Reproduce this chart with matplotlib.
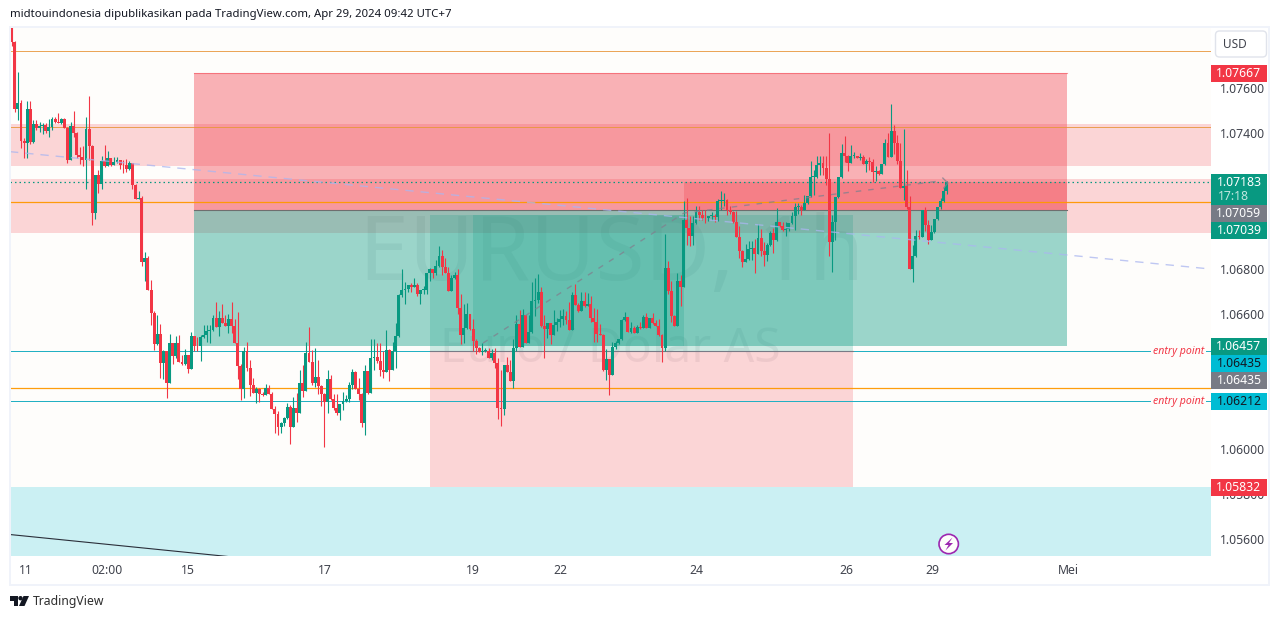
import matplotlib
matplotlib.use("Agg")
import matplotlib.pyplot as plt
from matplotlib.patches import Rectangle, Circle, Polygon, FancyBboxPatch
import numpy as np

first_open = 107869
closes = [107805,107508,107533,107366,107357,107507,107362,107440,107422,107431,107436,107409,107427,107462,107449,107445,107462,107422,107282,107431,
107400,107303,107294,107281,107418,107343,107046,107214,107174,107276,107254,107290,107259,107272,107281,107259,107257,107241,107267,107170,
107108,107112,106829,106846,106705,106603,106465,106510,106381,106434,106293,106470,106412,106470,106386,106377,106417,106355,106501,106457,
106455,106496,106505,106523,106527,106581,106541,106581,106558,106545,106576,106545,106470,106368,106266,106434,106359,106284,106248,106266,
106244,106239,106270,106244,106177,106155,106098,106115,106137,106186,106098,106182,106160,106293,106257,106425,106386,106293,106319,106279,
106244,106208,106310,106222,106182,106160,106199,106213,106222,106284,106341,106267,106244,106115,106346,106248,106403,106408,106390,106350,
106341,106439,106350,106434,106501,106682,106705,106709,106727,106718,106727,106687,106705,106705,106780,106798,106780,106811,106855,106807,
106780,106700,106758,106771,106625,106505,106536,106598,106532,106479,106448,106430,106434,106434,106403,106425,106381,106182,106177,106372,
106341,106301,106448,106554,106452,106594,106470,106519,106656,106660,106696,106545,106532,106558,106505,106550,106563,106576,106589,106572,
106527,106682,106638,106612,106656,106634,106643,106581,106563,106510,106505,106350,106399,106328,106452,106470,106486,106572,106585,106519,
106536,106514,106541,106536,106585,106536,106581,106558,106545,106505,106448,106802,106700,106589,106545,106744,106718,107015,106982,106944,
107001,107050,107037,107024,107022,107033,107035,107027,107099,107100,107102,107059,107049,107006,106939,106877,106829,106842,106886,106891,
106864,106935,106877,106860,106904,106957,106926,107006,106988,106970,106975,107001,107033,107072,107074,107059,107090,107121,107205,107207,
107259,107267,107245,107196,106917,107006,107117,107205,107312,107298,107267,107298,107300,107290,107294,107263,107276,107272,107228,107232,
107219,107263,107356,107294,107409,107356,107276,107157,107165,107072,106798,106855,106944,106939,107059,106993,106926,106962,107019,107072,
107099,107143,107183]
highs = [107875,107809,107671,107547,107380,107542,107542,107458,107458,107449,107445,107445,107462,107471,107471,107489,107467,107467,107427,107449,
107498,107405,107338,107343,107471,107564,107347,107214,107236,107298,107347,107321,107290,107294,107294,107281,107281,107285,107276,107267,
107174,107143,107121,106873,106855,106749,106612,106594,106554,106439,106434,106510,106470,106501,106505,106417,106443,106417,106519,106501,
106498,106505,106550,106550,106550,106594,106651,106612,106643,106594,106598,106651,106576,106607,106377,106452,106474,106394,106315,106275,
106270,106253,106288,106284,106253,106191,106168,106120,106142,106204,106195,106230,106248,106350,106372,106474,106541,106439,106448,106394,
106284,106248,106350,106328,106244,106244,106199,106253,106239,106297,106355,106346,106315,106248,106372,106346,106488,106488,106470,106470,
106434,106527,106443,106474,106558,106687,106798,106740,106727,106736,106758,106736,106705,106721,106780,106802,106798,106838,106900,106882,
106846,106807,106771,106784,106798,106687,106643,106647,106598,106576,106488,106452,106470,106448,106448,106443,106448,106403,106350,106372,
106408,106394,106488,106594,106616,106620,106594,106594,106740,106758,106775,106718,106594,106558,106558,106616,106581,106616,106620,106612,
106651,106696,106731,106647,106696,106696,106691,106678,106625,106620,106554,106510,106443,106399,106474,106479,106488,106576,106607,106585,
106563,106545,106550,106563,106594,106603,106581,106603,106572,106576,106510,106953,106833,106744,106594,106780,106771,107099,107112,107033,
107033,107077,107077,107059,107059,107033,107050,107041,107108,107143,107134,107108,107077,107055,107055,106988,106882,106908,106922,106922,
106931,106997,106975,106917,106913,106966,106979,107068,107006,107006,107006,107001,107050,107090,107090,107081,107125,107121,107276,107236,
107298,107298,107298,107298,107400,107037,107117,107205,107352,107387,107303,107347,107316,107298,107312,107303,107285,107294,107285,107254,
107236,107263,107374,107400,107529,107436,107391,107356,107418,107236,107121,106904,106970,106970,107059,107072,107015,106993,107019,107072,
107112,107161,107187]
lows = [107786,107495,107458,107334,107290,107290,107352,107357,107414,107405,107396,107400,107383,107414,107445,107445,107440,107422,107267,107282,
107383,107290,107263,107254,107152,107281,106993,107019,107134,107152,107250,107254,107254,107259,107267,107241,107223,107228,107236,107152,
107108,107108,106811,106744,106705,106550,106439,106461,106315,106310,106226,106293,106377,106403,106386,106372,106372,106337,106355,106434,
106434,106390,106492,106474,106470,106523,106541,106501,106558,106545,106514,106514,106470,106310,106217,106226,106346,106235,106248,106204,
106208,106235,106239,106244,106177,106071,106062,106071,106102,106133,106022,106098,106120,106160,106230,106257,106386,106284,106275,106244,
106191,106009,106160,106217,106173,106151,106129,106173,106208,106208,106266,106267,106217,106098,106062,106244,106248,106350,106381,106324,
106315,106341,106301,106350,106359,106496,106674,106643,106696,106696,106722,106678,106643,106687,106687,106745,106758,106771,106807,106771,
106780,106700,106700,106753,106598,106465,106470,106532,106527,106434,106421,106430,106417,106430,106403,106394,106359,106133,106102,106151,
106341,106301,106270,106434,106452,106452,106470,106470,106514,106589,106647,106541,106403,106492,106465,106505,106523,106541,106550,106554,
106527,106527,106638,106607,106612,106629,106634,106563,106474,106474,106505,106346,106306,106239,106328,106443,106465,106483,106567,106519,
106514,106514,106514,106532,106536,106536,106536,106554,106545,106501,106386,106434,106687,106563,106545,106545,106634,106718,106904,106900,
106904,106997,107015,107015,107001,107010,107015,107006,107010,107059,107077,107037,107041,107001,106939,106846,106807,106829,106838,106838,
106780,106864,106855,106811,106833,106900,106869,106922,106984,106966,106944,106966,106997,106970,107041,107037,107059,107086,107117,107125,
107201,107214,107214,107170,106855,106784,106926,107112,107201,107272,107232,107267,107290,107290,107281,107263,107228,107236,107183,107188,
107214,107219,107259,107294,107294,107307,107263,107157,107103,107064,106798,106740,106851,106931,106939,106966,106908,106926,106957,107015,
107064,107095,107130]

yaxis_ticks = [1.056,1.058,1.060,1.062,1.064,1.066,1.068,1.070,1.072,1.074,1.076]
yaxis_shown = ["1.05600","1.05800","1.06000","","","1.06600","1.06800","","","1.07400","1.07600"]
time_labels = ["11","02:00","15","17","19","22","24","26","29","Mei"]
time_ticks = [4.6,30.8,56.9,101.2,149,177.1,221,269.4,297.2,341.1]

faint_orange = [1.07764,1.07427]
hlines_orange = [1.07093,1.06269]
hlines_teal = [1.06435,1.06212]
current_price = 1.07183
zones_pink = [(1.07254,1.07441),(1.06958,1.07197)]
zone_cyan = (1.05300,1.05832)
big_box = dict(x0=58.9,x1=340.7,top=1.07667,mid=1.07059,bot=1.06457)
long_box = dict(x0=135.1,x1=271.7,top=1.07039,mid=1.06435,bot=1.05832)
dark_green_box = dict(x0=148.9,x1=217.1,top=1.07039,bot=1.06457)
dark_red_box = dict(x0=217.1,x1=340.7,top=1.07183,bot=1.07059)
blue_trend_x, blue_trend_y = [-0.55,387.3],[1.07318,1.06798]
grey_path_x, grey_path_y = [152.2,217.1,299.7],[1.06470,1.07046,1.07188]
arrow_x, arrow_y = [300.7,302.3,301.0],[1.07201,1.07179,1.07157]
black_x, black_y = [-0.55,68.1,140],[1.05622,1.05527,1.05428]

plt.rcParams['font.family'] = ['Noto Sans','DejaVu Sans']
W,H = 1281,619
fig = plt.figure(figsize=(W/100,H/100),dpi=100,facecolor='white')
ax = fig.add_axes([10/W,1-556/H,(1211-10)/W,(556-27)/H],facecolor='#fefdfb')
ax.set_xlim(-0.55,387.3); ax.set_ylim(1.055269,1.078702)
for s in ax.spines.values(): s.set_visible(False)
ax.set_axisbelow(True)
ax.yaxis.tick_right()
ax.set_yticks(yaxis_ticks); ax.set_yticklabels(yaxis_shown,fontsize=8.8,color='#40434d')
ax.set_xticks(time_ticks); ax.set_xticklabels(time_labels,fontsize=8.8,color='#40434d')
ax.tick_params(axis='y',length=0,pad=6.5)
ax.tick_params(axis='x',length=0,pad=5.5)

RED,GRN,CY,OR = '#f23645','#089981','#00bcd4','#ff9800'
def box(x0,x1,b,t,c,a,z=1.0):
    ax.add_patch(Rectangle((x0,b),x1-x0,t-b,fc=c,alpha=a,lw=0,zorder=z))

ax.text(0.2905,0.565,"EURUSD, 1h",transform=ax.transAxes,fontsize=64.5,color='#787b86',alpha=.12,va='center',ha='left',zorder=.9)
ax.text(0.358,0.39,"Euro / Dolar AS",transform=ax.transAxes,fontsize=34.5,color='#787b86',alpha=.12,va='center',ha='left',zorder=.9)

for b,t in zones_pink: ax.axhspan(b,t,fc=RED,alpha=.2,lw=0,zorder=1)
ax.axhspan(*zone_cyan,fc=CY,alpha=.2,lw=0,zorder=1)
B=big_box; box(B['x0'],B['x1'],B['mid'],B['top'],RED,.38); box(B['x0'],B['x1'],B['bot'],B['mid'],GRN,.4)
ax.plot([B['x0'],B['x1']],[B['top']]*2,color=RED,alpha=.5,lw=.8,zorder=1.2)
ax.plot([B['x0'],B['x1']],[B['mid']]*2,color='#6e6e6e',lw=.8,zorder=1.2)
L=long_box; box(L['x0'],L['x1'],L['mid'],L['top'],GRN,.2); box(L['x0'],L['x1'],L['bot'],L['mid'],RED,.2)
D=dark_green_box; box(D['x0'],D['x1'],D['bot'],D['top'],GRN,.2)
D=dark_red_box; box(D['x0'],D['x1'],D['bot'],D['top'],RED,.25)

for p in faint_orange: ax.axhline(p,color='#e8963a',lw=.72,alpha=.85,zorder=1.5)
for p in hlines_orange: ax.axhline(p,color=OR,lw=.9,alpha=.95,zorder=1.5)
for p in hlines_teal: ax.axhline(p,color='#22b0c3',lw=.72,zorder=1.5)
ax.plot([L['x0'],L['x1']],[L['mid']]*2,color='#787b86',lw=.8,zorder=1.6)
ax.axhline(current_price,color=GRN,lw=.9,ls=(0,(1.2,2.4)),zorder=1.5)
ax.plot(black_x,black_y,color='#2a2e39',lw=.8,zorder=1.5)

for p in hlines_teal:
    ax.annotate("entry point",xy=(1178.5,619-(351.5 if p>1.063 else 401.5)),xycoords='figure pixels',ha='center',va='center',
        fontsize=7.6,style='italic',color=RED,zorder=1.7,
        bbox=dict(fc='#fefdfb',ec='none',pad=1.5))

# candles from the value arrays
c = np.array(closes)/1e5
o = np.r_[first_open/1e5,c[:-1]]
h = np.maximum.reduce([np.array(highs)/1e5,o,c])
l = np.minimum.reduce([np.array(lows)/1e5,o,c])
idx = np.arange(len(c))
up = c>=o
cols = np.where(up,GRN,RED)
ax.vlines(idx,l,h,colors=cols,lw=.8,zorder=3)
ax.bar(idx,np.maximum(np.abs(c-o),.00004),bottom=np.minimum(o,c),width=.94,color=cols,lw=0,zorder=3.1)

ax.plot(blue_trend_x,blue_trend_y,color='#aab6f0',lw=1.0,ls=(0,(6,5)),alpha=.75,zorder=3.5)
ax.plot(grey_path_x,grey_path_y,color='#80808e',lw=1.0,ls=(0,(4,5)),alpha=.75,zorder=3.5)
ax.plot(arrow_x,arrow_y,color='#80808e',lw=1.0,alpha=.75,zorder=3.5)

# figure-level helpers in pixels
def frect(x0,y0,x1,y1,c,z=1,**k):
    fig.add_artist(Rectangle((x0/W,1-y1/H),(x1-x0)/W,(y1-y0)/H,transform=fig.transFigure,fc=c,lw=0,zorder=z,**k))
def ftext(x,y,s,**k):
    fig.text(x/W,1-y/H,s,**k)

# chart frame
F='#f0f3fa'
frect(9,26,1270,27.5,F); frect(9,584,1270,586,F); frect(9,26,11,586,F); frect(1268,26,1270,586,F)

labels = [("1.07667",RED,'white',65,82),("1.07059",'#787b86','white',205,222),("1.07039",GRN,'white',222,239),
          ("1.06457",GRN,'white',338,355),("1.06435",CY,'#131722',355,372),("1.06435",'#787b86','white',372,389),
          ("1.06212",CY,'#131722',393,410),("1.05832",RED,'white',479,496)]
for s,bg,fg,y0,y1 in labels:
    frect(1211,y0,1267,y1,bg,z=2)
    ftext(1239,(y0+y1)/2,s,color=fg,fontsize=8.8,ha='center',va='center',zorder=4)
frect(1211,174,1267,205,GRN,z=2)
ftext(1239,182.5,"1.07183",color='white',fontsize=8.8,ha='center',va='center',zorder=4)
ftext(1234,197,"17:18",color='#c0e6df',fontsize=8.8,ha='center',va='center',zorder=4)
fig.add_artist(FancyBboxPatch((1215.5,619-57),51,26,boxstyle="round,pad=0,rounding_size=4",transform=None,fc='white',ec='#e0e3eb',lw=1,zorder=3))
ftext(1235,44,"USD",color='#40434d',fontsize=8.5,ha='center',va='center',zorder=4)

ftext(10,14,"midtouindonesia dipublikasikan pada TradingView.com, Apr 29, 2024 09:42 UTC+7",fontsize=8.2,color='#131722',ha='left',va='center')
ftext(33,601.5,"TradingView",fontsize=8.8,color='#2e2e2e',ha='left',va='center')
# logo
frect(10,596,18,600.5,'#131722'); frect(14,596,18,606,'#131722')
fig.add_artist(Circle((20.5,619-598.2),2.2,transform=None,fc='#131722',lw=0))
fig.add_artist(Polygon([(23.5,619-596),(29,619-596),(24.5,619-606),(19,619-606)],transform=None,fc='#131722',lw=0))

# event marker
fig.add_artist(Circle((948.7,619-544),9.7,transform=None,fc='#fefdfb',ec='#9c27b0',lw=1.2,zorder=3))
bolt = [(952.5,537.5),(944.5,545),(948.5,545),(945.5,550.5),(953,543),(949,543)]
fig.add_artist(Polygon([(x,619-y) for x,y in bolt],transform=None,fc='#9c27b0',lw=0,zorder=4))

fig.savefig('out.png',dpi=100,facecolor='white')
